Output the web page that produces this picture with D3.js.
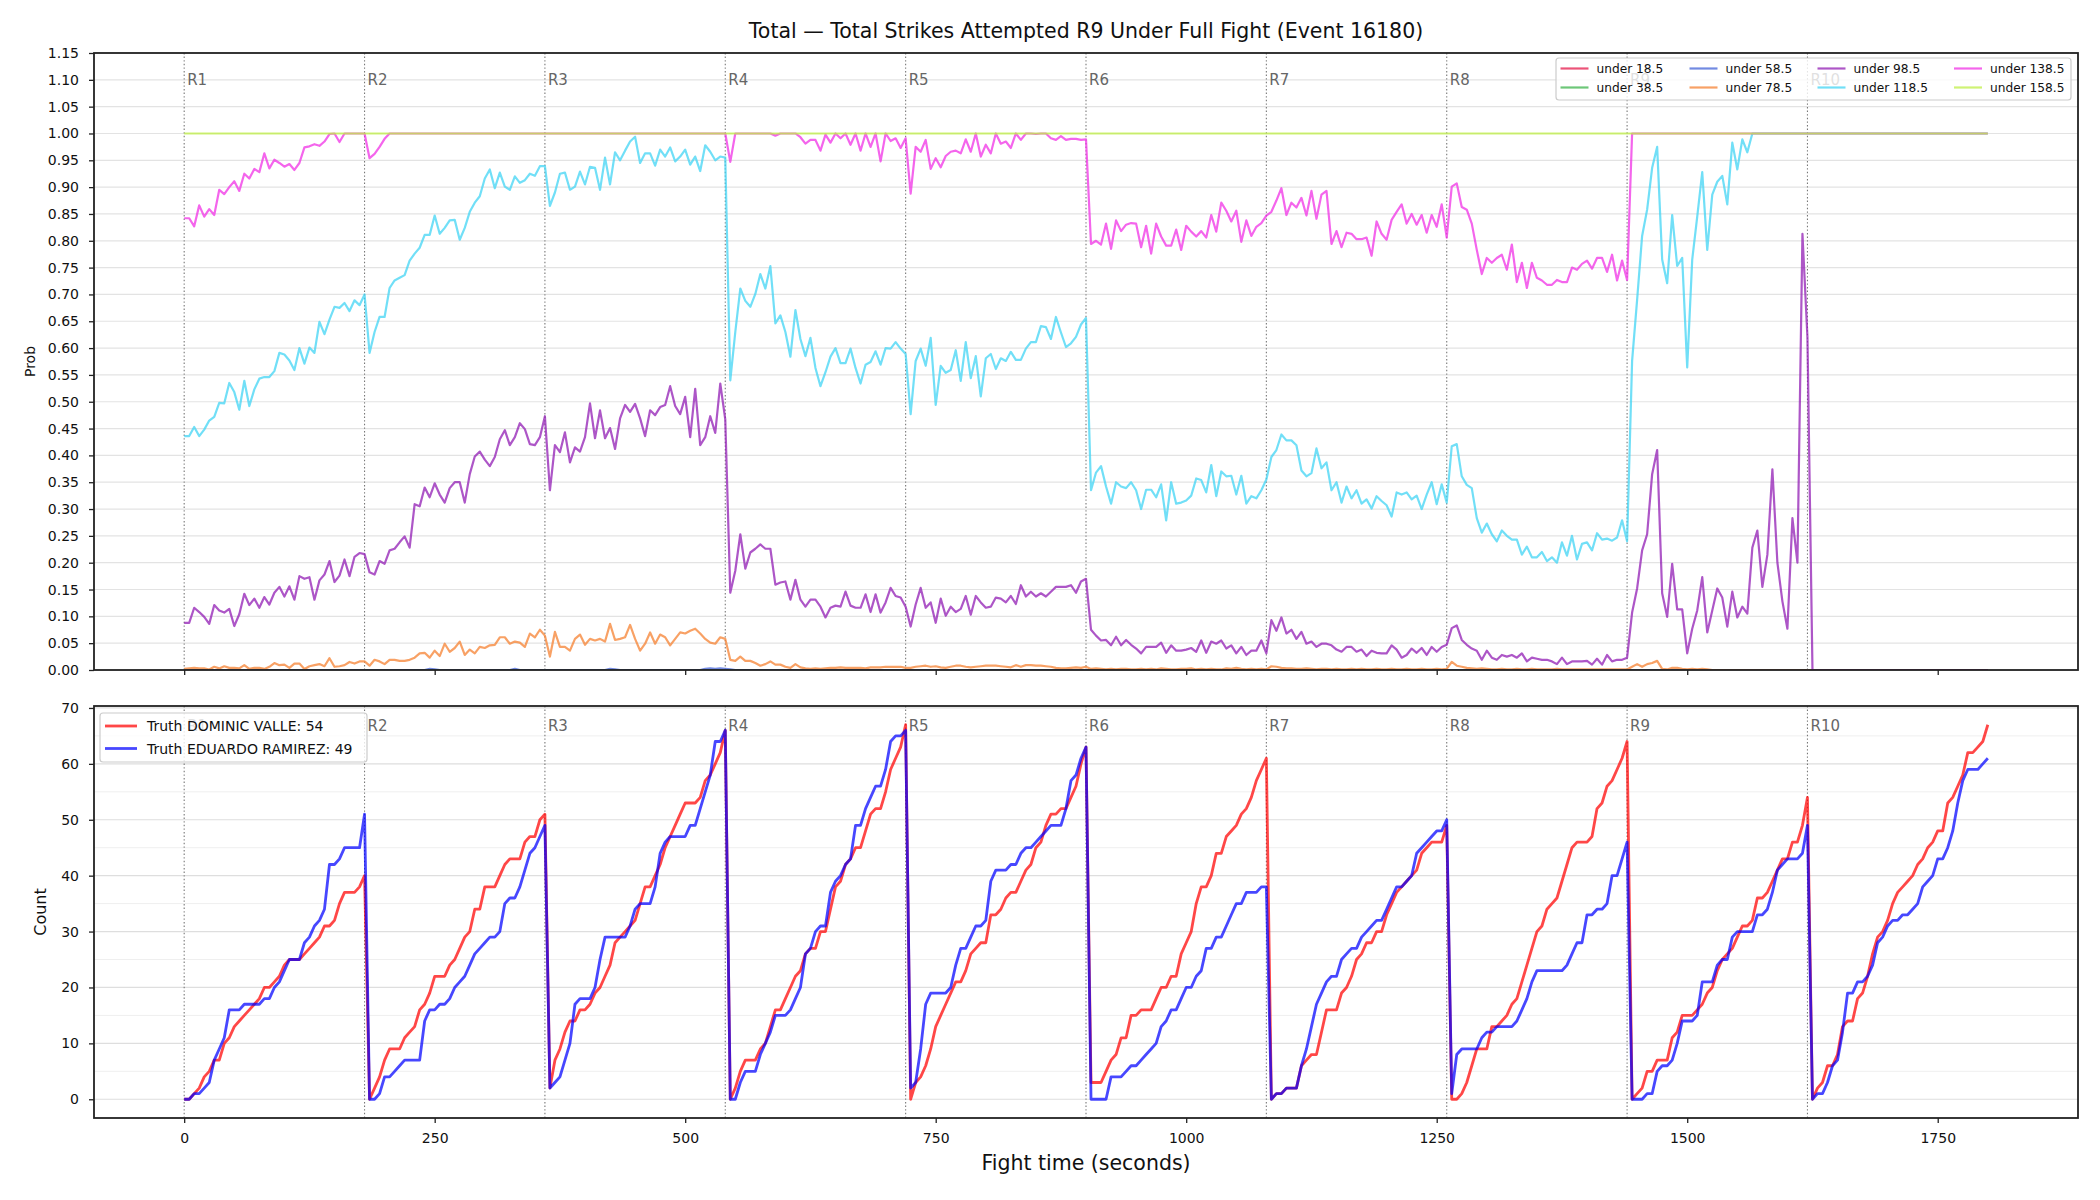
<!DOCTYPE html>
<html>
<head>
<meta charset="utf-8">
<script src="https://cdn.jsdelivr.net/npm/d3@7"></script>
<style>
  body { margin: 0; background: #fff; }
  svg { display: block; font-family: "DejaVu Sans", sans-serif; }
</style>
</head>
<body>
<div id="chart"></div>
<script>
// samples every 5 s from 0 to 1800, one row per round (R1 row includes t=0 and t=180)
var STEP = 5;

var roundStarts = [0, 180, 360, 540, 720, 900, 1080, 1260, 1440, 1620];
var roundNames = ["R1", "R2", "R3", "R4", "R5", "R6", "R7", "R8", "R9", "R10"];
var timeTicks = [0, 250, 500, 750, 1000, 1250, 1500, 1750];
var probTicks = [0, 0.05, 0.10, 0.15, 0.20, 0.25, 0.30, 0.35, 0.40, 0.45, 0.50, 0.55,
  0.60, 0.65, 0.70, 0.75, 0.80, 0.85, 0.90, 0.95, 1.00, 1.05, 1.10, 1.15];
var countTicks = [0, 10, 20, 30, 40, 50, 60, 70];
var countMinor = [5, 15, 25, 35, 45, 55, 65];

// flat lines, given as [time, prob]
var under18 = [[0, 0], [1800, 0]];
var under38 = [[0, 0], [1800, 0]];
var under58 = [[0, 0], [240, 0], [245, 0.002], [250, 0.001], [255, 0], [325, 0], [330, 0.002], [335, 0],
  [420, 0], [425, 0.002], [430, 0.001], [435, 0], [515, 0], [520, 0.002], [525, 0.003], [530, 0.002],
  [535, 0.003], [540, 0.002], [545, 0.001], [550, 0], [1800, 0]];
var under158 = [[0, 1], [1800, 1]];

var under78 = [
  0.002,0.003,0.004,0.003,0.003,0.001,0.006,0.003,0.007,0.004,0.004,0.003,0.009,0.002,0.004,0.004,0.002,0.006,0.013,0.009,0.010,0.004,0.012,0.012,0.002,0.007,0.009,0.011,0.007,0.022,0.006,0.007,0.009,0.015,0.012,0.016,0.016,
  0.008,0.019,0.016,0.011,0.019,0.019,0.017,0.017,0.019,0.023,0.031,0.032,0.023,0.036,0.026,0.049,0.034,0.041,0.053,0.028,0.038,0.031,0.043,0.041,0.046,0.047,0.061,0.061,0.049,0.053,0.051,0.043,0.068,0.061,0.075,0.064,
  0.025,0.071,0.043,0.043,0.036,0.058,0.066,0.047,0.058,0.055,0.058,0.053,0.086,0.056,0.058,0.061,0.084,0.058,0.036,0.049,0.070,0.049,0.066,0.061,0.046,0.058,0.070,0.068,0.073,0.077,0.068,0.058,0.051,0.049,0.061,0.058,
  0.019,0.017,0.025,0.017,0.017,0.013,0.008,0.011,0.016,0.010,0.010,0.006,0.004,0.011,0.005,0.003,0.002,0.003,0.002,0.003,0.004,0.004,0.005,0.004,0.004,0.004,0.004,0.003,0.005,0.005,0.005,0.006,0.006,0.006,0.006,0.004,
  0.004,0.006,0.007,0.008,0.006,0.007,0.005,0.004,0.006,0.008,0.008,0.006,0.005,0.006,0.007,0.008,0.008,0.008,0.007,0.006,0.005,0.009,0.006,0.009,0.009,0.008,0.008,0.007,0.006,0.004,0.003,0.003,0.004,0.005,0.004,0.006,
  0.002,0.003,0.002,0.001,0.002,0.001,0.002,0.002,0.001,0.001,0.002,0.001,0.002,0.001,0.003,0.002,0.001,0.001,0.002,0.002,0.003,0.001,0.002,0.001,0.002,0.001,0.001,0.003,0.002,0.004,0.002,0.001,0.002,0.001,0.002,0.001,
  0.007,0.006,0.004,0.003,0.003,0.002,0.002,0.003,0.002,0.001,0.002,0.002,0.001,0.002,0.001,0.001,0.002,0.001,0.002,0.001,0.001,0.002,0.001,0.001,0.002,0.001,0.001,0.002,0.001,0.001,0.002,0.001,0.001,0.002,0.001,0.002,
  0.015,0.008,0.006,0.004,0.003,0.002,0.003,0.002,0.001,0.001,0.002,0.001,0.001,0.002,0.001,0.001,0.002,0.001,0.001,0.001,0.001,0.002,0.001,0.001,0.001,0.001,0.001,0.001,0.001,0.001,0.001,0.001,0.001,0.001,0.001,0.001,
  0.006,0.011,0.006,0.011,0.013,0.017,0.002,0.001,0.004,0.004,0.002,0.001,0.002,0.001,0.002,0.001,0,0,0,0,0,0,0,0,0,0,0,0,0,0,0,0,0,0,0,0,
  0,0,0,0,0,0,0,0,0,0,0,0,0,0,0,0,0,0,0,0,0,0,0,0,0,0,0,0,0,0,0,0,0,0,0,0
];

var under98 = [
  0.088,0.088,0.116,0.108,0.099,0.086,0.121,0.111,0.107,0.114,0.082,0.104,0.142,0.121,0.133,0.116,0.136,0.122,0.144,0.155,0.137,0.156,0.131,0.175,0.170,0.173,0.131,0.167,0.178,0.203,0.164,0.176,0.206,0.175,0.211,0.218,0.216,
  0.182,0.178,0.203,0.198,0.223,0.226,0.238,0.249,0.228,0.309,0.305,0.340,0.322,0.348,0.327,0.312,0.339,0.350,0.350,0.312,0.365,0.398,0.407,0.392,0.380,0.397,0.430,0.447,0.419,0.434,0.460,0.449,0.421,0.419,0.434,0.473,
  0.335,0.419,0.406,0.443,0.387,0.415,0.407,0.434,0.497,0.432,0.484,0.432,0.451,0.412,0.469,0.494,0.481,0.496,0.469,0.436,0.484,0.475,0.490,0.494,0.529,0.492,0.477,0.509,0.434,0.524,0.419,0.434,0.473,0.442,0.534,0.467,
  0.144,0.185,0.253,0.189,0.219,0.226,0.234,0.226,0.226,0.159,0.163,0.165,0.131,0.168,0.131,0.118,0.131,0.131,0.118,0.098,0.116,0.120,0.118,0.146,0.120,0.116,0.116,0.141,0.108,0.141,0.107,0.126,0.153,0.138,0.135,0.118,
  0.081,0.122,0.153,0.116,0.126,0.088,0.133,0.101,0.118,0.108,0.114,0.138,0.103,0.138,0.126,0.116,0.118,0.135,0.133,0.126,0.138,0.123,0.158,0.137,0.146,0.137,0.143,0.137,0.146,0.155,0.155,0.155,0.158,0.144,0.165,0.170,
  0.075,0.064,0.055,0.056,0.046,0.062,0.046,0.056,0.047,0.040,0.031,0.043,0.043,0.043,0.051,0.032,0.046,0.036,0.036,0.038,0.041,0.034,0.055,0.032,0.053,0.049,0.055,0.040,0.046,0.031,0.043,0.028,0.036,0.036,0.055,0.031,
  0.093,0.073,0.098,0.068,0.075,0.058,0.071,0.049,0.053,0.043,0.049,0.049,0.046,0.038,0.034,0.043,0.043,0.034,0.038,0.026,0.036,0.032,0.031,0.031,0.046,0.038,0.023,0.028,0.040,0.032,0.041,0.028,0.043,0.034,0.043,0.047,
  0.078,0.083,0.056,0.047,0.040,0.036,0.019,0.036,0.023,0.019,0.028,0.025,0.028,0.023,0.031,0.016,0.023,0.021,0.019,0.019,0.016,0.011,0.023,0.011,0.016,0.016,0.016,0.017,0.010,0.021,0.010,0.028,0.016,0.019,0.019,0.023,
  0.107,0.152,0.223,0.253,0.365,0.410,0.143,0.099,0.198,0.113,0.113,0.031,0.077,0.111,0.173,0.070,0.111,0.152,0.135,0.081,0.146,0.098,0.118,0.105,0.228,0.260,0.155,0.215,0.374,0.200,0.128,0.077,0.283,0.200,0.813,0.620,
  0,0,0,0,0,0,0,0,0,0,0,0,0,0,0,0,0,0,0,0,0,0,0,0,0,0,0,0,0,0,0,0,0,0,0,0
];

var under118 = [
  0.436,0.436,0.453,0.436,0.448,0.465,0.472,0.498,0.497,0.535,0.518,0.485,0.539,0.492,0.523,0.543,0.546,0.546,0.557,0.591,0.588,0.577,0.559,0.600,0.571,0.601,0.591,0.649,0.626,0.653,0.677,0.675,0.684,0.669,0.689,0.680,0.700,
  0.591,0.630,0.658,0.658,0.712,0.726,0.731,0.736,0.763,0.776,0.787,0.811,0.811,0.847,0.813,0.824,0.838,0.839,0.802,0.824,0.854,0.871,0.883,0.916,0.933,0.898,0.927,0.901,0.895,0.920,0.908,0.913,0.925,0.921,0.939,0.939,
  0.865,0.890,0.925,0.927,0.895,0.901,0.929,0.905,0.938,0.936,0.895,0.955,0.905,0.965,0.950,0.968,0.985,0.994,0.945,0.963,0.963,0.940,0.970,0.957,0.974,0.948,0.957,0.970,0.942,0.957,0.930,0.978,0.966,0.950,0.957,0.955,
  0.540,0.630,0.711,0.688,0.677,0.701,0.738,0.711,0.753,0.646,0.661,0.630,0.584,0.671,0.617,0.585,0.619,0.563,0.529,0.555,0.584,0.600,0.572,0.572,0.599,0.563,0.534,0.569,0.574,0.594,0.569,0.600,0.599,0.611,0.599,0.589,
  0.477,0.576,0.599,0.567,0.619,0.494,0.567,0.554,0.559,0.596,0.539,0.611,0.544,0.585,0.510,0.581,0.589,0.561,0.581,0.576,0.593,0.578,0.578,0.599,0.611,0.611,0.641,0.639,0.617,0.658,0.629,0.602,0.609,0.621,0.644,0.656,
  0.335,0.368,0.380,0.342,0.310,0.350,0.342,0.339,0.350,0.335,0.300,0.336,0.336,0.322,0.346,0.279,0.350,0.310,0.312,0.316,0.325,0.357,0.354,0.331,0.382,0.324,0.370,0.361,0.362,0.327,0.362,0.310,0.324,0.320,0.335,0.355,
  0.397,0.410,0.439,0.428,0.428,0.419,0.372,0.361,0.367,0.413,0.376,0.387,0.335,0.350,0.312,0.342,0.320,0.335,0.310,0.318,0.301,0.324,0.315,0.307,0.286,0.331,0.327,0.331,0.318,0.325,0.300,0.327,0.350,0.309,0.346,0.312,
  0.417,0.421,0.361,0.345,0.339,0.283,0.256,0.273,0.253,0.240,0.260,0.250,0.243,0.243,0.215,0.230,0.210,0.210,0.220,0.203,0.210,0.200,0.238,0.213,0.250,0.206,0.235,0.238,0.223,0.255,0.243,0.245,0.241,0.247,0.279,0.240,
  0.576,0.690,0.809,0.858,0.936,0.975,0.765,0.721,0.848,0.753,0.768,0.564,0.765,0.845,0.928,0.783,0.886,0.910,0.921,0.868,0.983,0.933,0.989,0.965,1,1,1,1,1,1,1,1,1,1,1,1,
  1,1,1,1,1,1,1,1,1,1,1,1,1,1,1,1,1,1,1,1,1,1,1,1,1,1,1,1,1,1,1,1,1,1,1,1
];

var under138 = [
  0.842,0.842,0.827,0.866,0.845,0.859,0.848,0.895,0.887,0.900,0.911,0.893,0.925,0.916,0.934,0.928,0.963,0.935,0.951,0.945,0.938,0.943,0.932,0.945,0.974,0.976,0.980,0.977,0.985,0.999,1,0.984,1,1,1,1,1,
  0.954,0.962,0.975,0.990,1,1,1,1,1,1,1,1,1,1,1,1,1,1,1,1,1,1,1,1,1,1,1,1,1,1,1,1,1,1,1,1,
  1,1,1,1,1,1,1,1,1,1,1,1,1,1,1,1,1,1,1,1,1,1,1,1,1,1,1,1,1,1,1,1,1,1,1,1,
  0.947,1,1,1,1,1,1,1,1,0.996,1,1,1,1,0.993,0.981,0.988,0.988,0.968,0.998,0.983,1,0.991,1,0.979,1,0.968,1,0.975,1,0.948,1,0.986,0.991,0.973,0.991,
  0.888,0.975,0.966,0.988,0.934,0.954,0.937,0.958,0.966,0.968,0.963,0.989,0.966,1,0.957,0.979,0.963,1,0.981,0.985,0.973,1,0.988,1,1,0.999,1,1,0.991,0.988,0.995,0.988,0.990,0.990,0.988,0.989,
  0.794,0.800,0.793,0.832,0.785,0.838,0.818,0.830,0.833,0.832,0.788,0.828,0.776,0.832,0.808,0.791,0.791,0.821,0.783,0.828,0.817,0.808,0.818,0.806,0.848,0.817,0.871,0.856,0.836,0.856,0.798,0.838,0.809,0.826,0.833,0.847,
  0.854,0.875,0.898,0.848,0.871,0.862,0.880,0.847,0.893,0.841,0.886,0.893,0.794,0.818,0.788,0.815,0.813,0.803,0.803,0.806,0.772,0.836,0.813,0.802,0.839,0.854,0.868,0.832,0.850,0.830,0.848,0.815,0.848,0.826,0.868,0.806,
  0.901,0.907,0.863,0.858,0.832,0.783,0.738,0.768,0.759,0.768,0.774,0.746,0.793,0.723,0.759,0.712,0.759,0.731,0.726,0.718,0.718,0.727,0.723,0.723,0.750,0.746,0.757,0.763,0.748,0.768,0.768,0.742,0.774,0.726,0.763,0.727,
  1,1,1,1,1,1,1,1,1,1,1,1,1,1,1,1,1,1,1,1,1,1,1,1,1,1,1,1,1,1,1,1,1,1,1,1,
  1,1,1,1,1,1,1,1,1,1,1,1,1,1,1,1,1,1,1,1,1,1,1,1,1,1,1,1,1,1,1,1,1,1,1,1
];

// cumulative strikes per round, same 5 s grid
var valleCounts = [
  0,0,1,2,4,5,7,7,10,11,13,14,15,16,17,18,20,20,21,22,24,25,25,25,26,27,28,29,31,31,32,35,37,37,37,38,40,
  0,2,4,7,9,9,9,11,12,13,16,17,19,22,22,22,24,25,27,29,30,34,34,38,38,38,40,42,43,43,43,46,47,47,50,51,
  2,7,9,12,14,14,16,16,17,19,20,22,24,28,29,30,31,32,35,38,38,40,42,45,47,49,51,53,53,53,54,57,58,60,62,66,
  0,2,5,7,7,7,9,10,13,16,16,18,20,22,23,26,27,27,30,30,34,38,39,42,43,45,45,48,51,52,52,55,59,61,63,67,
  0,3,4,6,9,13,15,17,19,21,21,23,26,27,28,28,33,33,34,36,37,37,39,41,42,45,46,49,51,51,52,52,54,56,60,63,
  3,3,3,5,7,8,11,11,15,15,16,16,16,18,20,20,22,22,26,28,30,35,38,38,40,44,44,47,48,49,51,52,54,57,59,61,
  0,1,1,2,2,2,6,7,8,8,12,16,16,16,19,20,22,25,26,28,28,30,30,33,35,37,38,39,40,41,44,45,46,46,46,49,
  0,0,1,3,6,9,9,9,13,13,14,15,17,18,21,24,27,30,31,34,35,36,39,42,45,46,46,46,47,52,53,56,57,59,61,64,
  0,1,2,5,5,7,7,7,11,12,15,15,15,16,17,19,20,23,25,26,27,29,31,31,32,36,36,37,39,41,43,43,46,46,49,54,
  0,2,3,6,6,8,13,14,14,18,19,22,26,29,30,32,35,37,38,39,40,42,43,45,46,48,48,53,54,56,58,62,62,63,64,67
];
var ramirezCounts = [
  0,0,1,1,2,3,7,9,11,16,16,16,17,17,17,17,18,18,20,21,23,25,25,25,28,29,31,32,34,42,42,43,45,45,45,45,51,
  0,0,1,4,4,5,6,7,7,7,7,14,16,16,17,17,18,20,21,22,24,26,27,28,29,29,30,35,36,36,38,41,44,45,47,49,
  2,3,4,7,10,17,18,18,18,20,25,29,29,29,29,29,31,34,35,35,35,38,44,46,47,47,47,47,49,49,52,55,58,64,64,66,
  0,0,3,5,5,5,8,10,12,15,15,15,16,18,20,26,27,30,31,31,37,39,40,42,43,49,49,52,54,56,56,59,64,65,65,66,
  2,3,9,17,19,19,19,19,20,24,27,27,29,31,31,32,39,41,41,41,42,42,44,45,45,46,47,48,49,49,49,52,57,58,61,63,
  0,0,0,0,4,4,4,5,6,6,7,8,9,10,13,14,16,16,18,20,20,22,23,27,27,29,29,31,33,35,35,37,37,37,38,38,
  0,1,1,2,2,2,6,9,13,17,19,21,22,22,25,26,27,27,29,30,31,32,32,34,36,38,38,39,40,44,45,46,47,48,48,50,
  1,8,9,9,9,9,11,12,12,13,13,13,13,14,16,18,21,23,23,23,23,23,23,24,26,28,28,33,33,34,34,35,40,40,43,46,
  0,0,0,1,1,5,6,6,7,10,14,14,14,15,21,21,21,24,25,25,29,30,30,30,30,33,33,34,37,41,42,43,43,43,44,49,
  0,1,1,3,6,7,12,19,19,21,21,22,24,28,29,31,32,32,33,33,34,35,38,39,40,43,43,45,48,53,57,59,59,59,60,61
];

var titleText = "Total \u2014 Total Strikes Attempted R9 Under Full Fight (Event 16180)";

function toPairs(vals) {
  return vals.map(function(v, i) { return [i * STEP, v]; });
}

var probSeries = [
  { name: "under 18.5",  color: "#e6194b", data: under18 },
  { name: "under 38.5",  color: "#3cb44b", data: under38 },
  { name: "under 58.5",  color: "#4363d8", data: under58 },
  { name: "under 78.5",  color: "#f58231", data: toPairs(under78) },
  { name: "under 98.5",  color: "#911eb4", data: toPairs(under98) },
  { name: "under 118.5", color: "#42d4f4", data: toPairs(under118) },
  { name: "under 138.5", color: "#f032e6", data: toPairs(under138) },
  { name: "under 158.5", color: "#bfef45", data: under158 }
];
var countSeries = [
  { name: "Truth DOMINIC VALLE: 54",   color: "#ff0000", data: toPairs(valleCounts) },
  { name: "Truth EDUARDO RAMIREZ: 49", color: "#0000ff", data: toPairs(ramirezCounts) }
];

var width = 2100, height = 1200;
var left = 94, right = 2078;
var topBox = { top: 53, bottom: 670 };
var botBox = { top: 706, bottom: 1118 };

var svg = d3.select("#chart").append("svg")
  .attr("width", width).attr("height", height);

var x = d3.scaleLinear().domain([-90, 1890]).range([left, right]);
var yProb = d3.scaleLinear().domain([0, 1.15]).range([topBox.bottom, topBox.top]);
var yCount = d3.scaleLinear().domain([-3.35, 70.35]).range([botBox.bottom, botBox.top]);

svg.append("text")
  .attr("x", (left + right) / 2).attr("y", 38)
  .attr("text-anchor", "middle")
  .style("font-size", "20.5px").attr("fill", "#111")
  .text(titleText);

function drawPanel(box, y, id) {
  var g = svg.append("g");
  g.append("clipPath").attr("id", id)
    .append("rect").attr("x", left).attr("y", box.top)
    .attr("width", right - left).attr("height", box.bottom - box.top);

  // round markers
  g.selectAll("line.round").data(roundStarts).enter().append("line")
    .attr("x1", function(d) { return x(d); }).attr("x2", function(d) { return x(d); })
    .attr("y1", box.top).attr("y2", box.bottom)
    .attr("stroke", "#777").attr("stroke-width", 1.1)
    .attr("stroke-dasharray", "1.4,2.2");
  var labelY = box.top + 0.03 * (box.bottom - box.top) + 13;
  g.selectAll("text.round").data(roundStarts).enter().append("text")
    .attr("x", function(d) { return x(d) + 3; })
    .attr("y", labelY)
    .style("font-size", "15px").attr("fill", "#666")
    .text(function(d, i) { return roundNames[i]; });
  return g;
}

function drawSpines(box) {
  svg.append("rect")
    .attr("x", left).attr("y", box.top)
    .attr("width", right - left).attr("height", box.bottom - box.top)
    .attr("fill", "none").attr("stroke", "#222").attr("stroke-width", 1.8);
}

function styleAxis(sel) {
  sel.select(".domain").remove();
  sel.selectAll(".tick line").attr("stroke", "#222").attr("stroke-width", 1.3);
  sel.selectAll(".tick text").style("font-size", "14px").attr("fill", "#111")
    .style("font-family", "DejaVu Sans, sans-serif");
}

// ---- top panel: probabilities
var gTop = svg.append("g");
gTop.selectAll("line.grid").data(probTicks).enter().append("line")
  .attr("x1", left).attr("x2", right)
  .attr("y1", function(d) { return yProb(d); }).attr("y2", function(d) { return yProb(d); })
  .attr("stroke", "#e3e3e3").attr("stroke-width", 1.2);
drawPanel(topBox, yProb, "clipTop");

var probLine = d3.line().x(function(d) { return x(d[0]); }).y(function(d) { return yProb(d[1]); });
svg.append("g").attr("clip-path", "url(#clipTop)")
  .selectAll("path").data(probSeries).enter().append("path")
  .attr("d", function(d) { return probLine(d.data); })
  .attr("fill", "none")
  .attr("stroke", function(d) { return d.color; })
  .attr("stroke-opacity", 0.75)
  .attr("stroke-width", 2.2)
  .attr("stroke-linejoin", "round");

drawSpines(topBox);
svg.append("g").attr("transform", "translate(" + left + ",0)")
  .call(d3.axisLeft(yProb).tickValues(probTicks).tickSize(5).tickPadding(10).tickFormat(d3.format(".2f")))
  .call(styleAxis);
svg.append("g").attr("transform", "translate(0," + topBox.bottom + ")")
  .call(d3.axisBottom(x).tickValues(timeTicks).tickSize(5).tickFormat(""))
  .call(styleAxis);

svg.append("text")
  .attr("transform", "translate(35," + ((topBox.top + topBox.bottom) / 2) + ") rotate(-90)")
  .attr("text-anchor", "middle").style("font-size", "14px").attr("fill", "#111")
  .text("Prob");

// legend, 4 columns x 2 rows
var legTop = svg.append("g");
legTop.append("rect")
  .attr("x", 1556).attr("y", 58).attr("width", 515).attr("height", 42).attr("rx", 3)
  .attr("fill", "#fff").attr("fill-opacity", 0.8)
  .attr("stroke", "#ccc").attr("stroke-width", 1.2);
var colX = [1560.5, 1689.5, 1817.5, 1954];
var rowY = [68.5, 87.5];
probSeries.forEach(function(s, i) {
  var cx = colX[Math.floor(i / 2)], cy = rowY[i % 2];
  legTop.append("line")
    .attr("x1", cx).attr("x2", cx + 28).attr("y1", cy).attr("y2", cy)
    .attr("stroke", s.color).attr("stroke-opacity", 0.75).attr("stroke-width", 2.2);
  legTop.append("text")
    .attr("x", cx + 36).attr("y", cy + 4.4)
    .style("font-size", "12.2px").attr("fill", "#111")
    .text(s.name);
});

// ---- bottom panel: counts
var gBot = svg.append("g");
gBot.selectAll("line.minor").data(countMinor).enter().append("line")
  .attr("x1", left).attr("x2", right)
  .attr("y1", function(d) { return yCount(d); }).attr("y2", function(d) { return yCount(d); })
  .attr("stroke", "#efefef").attr("stroke-width", 1);
gBot.selectAll("line.major").data(countTicks).enter().append("line")
  .attr("x1", left).attr("x2", right)
  .attr("y1", function(d) { return yCount(d); }).attr("y2", function(d) { return yCount(d); })
  .attr("stroke", "#dedede").attr("stroke-width", 1.2);
drawPanel(botBox, yCount, "clipBot");

var countLine = d3.line().x(function(d) { return x(d[0]); }).y(function(d) { return yCount(d[1]); });
svg.append("g").attr("clip-path", "url(#clipBot)")
  .selectAll("path").data(countSeries).enter().append("path")
  .attr("d", function(d) { return countLine(d.data); })
  .attr("fill", "none")
  .attr("stroke", function(d) { return d.color; })
  .attr("stroke-opacity", 0.72)
  .attr("stroke-width", 2.8)
  .attr("stroke-linejoin", "round");

drawSpines(botBox);
svg.append("g").attr("transform", "translate(" + left + ",0)")
  .call(d3.axisLeft(yCount).tickValues(countTicks).tickSize(5).tickPadding(10))
  .call(styleAxis);
svg.append("g").attr("transform", "translate(0," + botBox.bottom + ")")
  .call(d3.axisBottom(x).tickValues(timeTicks).tickSize(5).tickPadding(10).tickFormat(d3.format("d")))
  .call(styleAxis);

svg.append("text")
  .attr("transform", "translate(46," + ((botBox.top + botBox.bottom) / 2) + ") rotate(-90)")
  .attr("text-anchor", "middle").style("font-size", "16px").attr("fill", "#111")
  .text("Count");
svg.append("text")
  .attr("x", (left + right) / 2).attr("y", 1170)
  .attr("text-anchor", "middle").style("font-size", "20.5px").attr("fill", "#111")
  .text("Fight time (seconds)");

var legBot = svg.append("g");
legBot.append("rect")
  .attr("x", 100).attr("y", 713).attr("width", 267).attr("height", 49).attr("rx", 3)
  .attr("fill", "#fff").attr("fill-opacity", 0.8)
  .attr("stroke", "#ccc").attr("stroke-width", 1.2);
countSeries.forEach(function(s, i) {
  var cy = [726, 748.5][i];
  legBot.append("line")
    .attr("x1", 105).attr("x2", 137).attr("y1", cy).attr("y2", cy)
    .attr("stroke", s.color).attr("stroke-opacity", 0.72).attr("stroke-width", 2.8);
  legBot.append("text")
    .attr("x", 147).attr("y", cy + 5)
    .style("font-size", "14px").attr("fill", "#111")
    .text(s.name);
});
</script>
</body>
</html>
